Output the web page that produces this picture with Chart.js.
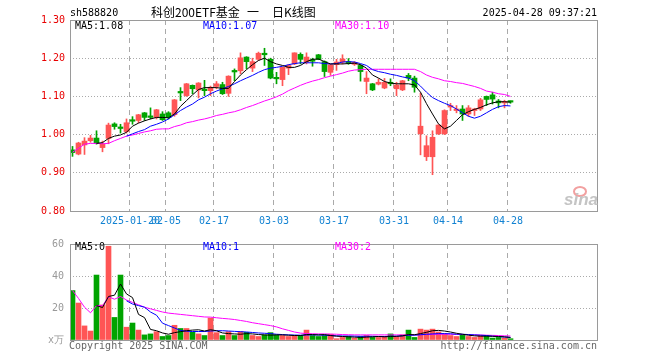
<!DOCTYPE html>
<html><head><meta charset="utf-8">
<script src="https://cdn.jsdelivr.net/npm/chart.js@4.4.1/dist/chart.umd.min.js"></script>
<style>
html,body{margin:0;padding:0;background:#fff;}
#wrap{position:relative;width:660px;height:360px;overflow:hidden;background:#fff;}
canvas{position:absolute;left:0;}
.t{position:absolute;font-family:"DejaVu Sans Mono",monospace;font-size:10px;white-space:pre;line-height:12px;color:#000;}
.ti{position:absolute;font-family:'Noto Sans CJK SC';font-size:12px;line-height:14px;top:5px;white-space:pre;color:#000;}
</style></head><body>
<div id="wrap">
<canvas id="main" width="660" height="232" style="top:0"></canvas>
<canvas id="vol" width="660" height="128" style="top:232px"></canvas>
<div class="t" style="left:70px;top:7px">sh588820</div>
<div class="ti" style="left:151px">科创200ETF基金</div>
<div class="ti" style="left:247px">一</div>
<div class="ti" style="left:272px">日K线图</div>
<div class="t" style="right:63px;top:7px">2025-04-28 09:37:21</div>
<div class="t" style="left:75px;top:20px">MA5:1.08</div>
<div class="t" style="left:203px;top:20px;color:#0000ff">MA10:1.07</div>
<div class="t" style="left:335px;top:20px;color:#ff00ff">MA30:1.10</div>
<div class="t" style="left:75px;top:241px">MA5:0</div>
<div class="t" style="left:203px;top:241px;color:#0000ff">MA10:1</div>
<div class="t" style="left:335px;top:241px;color:#ff00ff">MA30:2</div>
<div class="t" style="left:69px;top:340px;color:#666">Copyright 2025 SINA.COM</div>
<div class="t" style="right:63px;top:340px;color:#666">http://finance.sina.com.cn</div>
<div style="position:absolute;left:573px;top:186px;width:10px;height:7px;border:2px solid #f2a0a0;border-radius:50%"></div>
<div class="t" style="left:564px;top:191px;font-family:'Liberation Sans';font-size:17px;font-weight:bold;font-style:italic;line-height:18px;color:#c4c4c4">sina</div>
</div>
<script>
// trading days (categories)
const dates = ['2025-01-06','2025-01-07','2025-01-08','2025-01-09','2025-01-10','2025-01-13','2025-01-14','2025-01-15','2025-01-16','2025-01-17',
'2025-01-20','2025-01-21','2025-01-22','2025-01-23','2025-01-24','2025-01-27','2025-02-05','2025-02-06','2025-02-07','2025-02-10',
'2025-02-11','2025-02-12','2025-02-13','2025-02-14','2025-02-17','2025-02-18','2025-02-19','2025-02-20','2025-02-21','2025-02-24',
'2025-02-25','2025-02-26','2025-02-27','2025-02-28','2025-03-03','2025-03-04','2025-03-05','2025-03-06','2025-03-07','2025-03-10',
'2025-03-11','2025-03-12','2025-03-13','2025-03-14','2025-03-17','2025-03-18','2025-03-19','2025-03-20','2025-03-21','2025-03-24',
'2025-03-25','2025-03-26','2025-03-27','2025-03-28','2025-03-31','2025-04-01','2025-04-02','2025-04-03','2025-04-07','2025-04-08',
'2025-04-09','2025-04-10','2025-04-11','2025-04-14','2025-04-15','2025-04-16','2025-04-17','2025-04-18','2025-04-21','2025-04-22',
'2025-04-23','2025-04-24','2025-04-25','2025-04-28'];
const tickIdx = [10,16,24,34,44,54,63,73];
const tickLabels = ['2025-01-20','02-05','02-17','03-03','03-17','03-31','04-14','04-28'];
const priceTicks = [0.8,0.9,1.0,1.1,1.2,1.3];
const volTicks = [0,20,40,60];

const open = [0.960,0.949,0.973,0.984,0.991,0.966,0.990,1.028,1.020,1.008,
1.038,1.037,1.057,1.049,1.045,1.054,1.057,1.052,1.113,1.102,
1.129,1.117,1.119,1.115,1.126,1.131,1.108,1.168,1.167,1.203,
1.174,1.197,1.213,1.197,1.150,1.144,1.174,1.185,1.210,1.190,
1.196,1.209,1.191,1.163,1.183,1.190,1.190,1.184,1.181,1.139,
1.133,1.132,1.122,1.137,1.120,1.117,1.155,1.148,1.002,0.942,
0.942,1.002,1.002,1.072,1.063,1.067,1.054,1.063,1.067,1.100,
1.104,1.088,1.083,1.086];
const high = [0.969,0.980,0.992,0.998,1.010,0.983,1.030,1.031,1.027,1.041,
1.047,1.053,1.058,1.070,1.066,1.060,1.060,1.092,1.123,1.134,
1.130,1.136,1.142,1.127,1.139,1.137,1.154,1.172,1.214,1.204,
1.200,1.216,1.226,1.200,1.163,1.177,1.183,1.214,1.214,1.214,
1.200,1.210,1.193,1.184,1.197,1.209,1.199,1.191,1.183,1.165,
1.134,1.146,1.147,1.146,1.137,1.142,1.160,1.153,1.109,0.997,
1.010,1.026,1.065,1.082,1.076,1.076,1.076,1.069,1.095,1.101,
1.111,1.092,1.090,1.088];
const low = [0.943,0.947,0.948,0.980,0.975,0.955,0.976,1.014,1.004,1.004,
1.027,1.031,1.037,1.041,1.041,1.037,1.041,1.048,1.089,1.100,
1.107,1.096,1.102,1.102,1.120,1.105,1.100,1.141,1.159,1.172,
1.165,1.194,1.181,1.146,1.133,1.128,1.157,1.183,1.185,1.185,
1.179,1.196,1.152,1.155,1.168,1.185,1.184,1.181,1.140,1.107,
1.115,1.130,1.120,1.128,1.102,1.115,1.141,1.111,0.947,0.932,
0.895,1.000,1.000,1.063,1.057,1.037,1.048,1.050,1.063,1.076,
1.080,1.070,1.070,1.082];
const close = [0.953,0.978,0.983,0.991,0.977,0.975,1.025,1.021,1.016,1.031,
1.035,1.052,1.045,1.045,1.065,1.039,1.045,1.091,1.109,1.133,
1.120,1.135,1.115,1.124,1.133,1.107,1.153,1.164,1.201,1.191,
1.191,1.213,1.209,1.148,1.146,1.176,1.181,1.214,1.197,1.203,
1.192,1.197,1.165,1.183,1.190,1.198,1.187,1.189,1.165,1.148,
1.117,1.137,1.137,1.133,1.130,1.141,1.148,1.124,1.022,0.971,
0.993,1.025,1.063,1.076,1.067,1.054,1.070,1.067,1.091,1.092,
1.093,1.083,1.086,1.085];
const ma5 = [null,null,null,null,0.977,0.979,0.990,0.996,0.999,1.006,
1.022,1.030,1.036,1.041,1.045,1.045,1.044,1.054,1.074,1.089,
1.104,1.118,1.123,1.123,1.123,1.121,1.121,1.139,1.156,1.170,
1.183,1.194,1.200,1.191,1.185,1.181,1.176,1.176,1.181,1.191,
1.197,1.198,1.191,1.185,1.185,1.185,1.186,1.187,1.183,1.174,
1.156,1.148,1.139,1.135,1.133,1.133,1.133,1.130,1.111,1.081,
1.054,1.028,1.015,1.022,1.037,1.052,1.060,1.066,1.071,1.078,
1.083,1.086,1.086,1.085];
const ma10 = [null,null,null,null,null,null,null,null,null,0.996,
1.002,1.008,1.013,1.022,1.027,1.033,1.041,1.052,1.063,1.072,
1.080,1.091,1.098,1.107,1.114,1.120,1.126,1.133,1.141,1.148,
1.155,1.163,1.170,1.174,1.176,1.179,1.183,1.186,1.188,1.188,
1.188,1.188,1.186,1.185,1.186,1.190,1.191,1.190,1.186,1.181,
1.170,1.165,1.162,1.158,1.155,1.151,1.148,1.141,1.127,1.111,
1.097,1.089,1.082,1.076,1.067,1.057,1.048,1.043,1.048,1.057,
1.066,1.073,1.076,1.075];
const ma30 = [0.954,0.964,0.975,0.977,0.977,0.976,0.977,0.984,0.990,0.996,
0.999,1.003,1.007,1.010,1.014,1.015,1.015,1.021,1.025,1.031,
1.034,1.038,1.041,1.045,1.050,1.053,1.057,1.060,1.065,1.071,
1.076,1.082,1.088,1.093,1.099,1.106,1.115,1.122,1.129,1.135,
1.140,1.144,1.149,1.153,1.157,1.161,1.166,1.169,1.170,1.171,
1.171,1.171,1.171,1.171,1.171,1.171,1.171,1.171,1.165,1.156,
1.150,1.146,1.141,1.139,1.136,1.134,1.130,1.126,1.121,1.114,
1.111,1.107,1.105,1.100];
const volume = [30.9,23.1,8.8,5.6,40.6,21.9,58.6,14.1,40.6,8.0,
10.6,6.2,3.2,3.8,5.2,2.2,2.8,9.2,7.2,7.2,
4.8,3.8,2.8,13.7,4.6,2.8,5.2,2.8,5.2,4.8,
2.8,2.2,3.2,4.6,3.2,2.8,2.2,2.8,2.8,6.2,
2.8,2.2,2.8,3.6,0.8,1.6,2.2,1.2,2.2,2.8,
1.6,1.6,2.2,3.8,2.2,3.2,6.2,1.6,6.8,6.2,
6.8,5.0,4.0,2.8,2.2,3.2,2.2,1.6,2.8,2.8,
1.2,1.6,1.2,0.8];
const vma5 = [null,null,null,null,21.5,20.3,27.2,28.0,35.0,28.8,
26.5,16.0,14.0,6.6,5.8,4.4,3.6,4.6,5.2,5.8,
6.2,6.4,5.6,6.4,5.8,4.4,4.0,3.8,3.6,4.0,
3.8,3.4,3.2,3.0,3.2,3.2,3.0,2.8,2.8,3.4,
3.4,3.2,3.4,2.8,2.4,2.2,2.0,1.8,1.6,1.8,
2.0,2.2,2.0,2.2,2.3,2.6,3.4,3.3,4.0,4.8,
5.8,6.0,5.6,5.0,4.2,3.6,3.0,2.6,2.4,2.4,
2.3,2.2,2.0,1.6];
const vma10 = [null,null,null,null,null,null,null,null,null,24.5,
22.5,21.5,20.5,17.5,15.5,10.5,9.0,7.5,6.0,5.5,
5.3,5.3,5.3,5.6,5.8,5.8,5.6,5.4,5.2,5.0,
4.7,4.4,4.2,4.0,3.6,3.4,3.2,3.1,3.0,3.1,
3.2,3.1,3.0,2.8,2.6,2.5,2.5,2.4,2.3,2.3,
2.3,2.2,2.2,2.3,2.4,2.6,3.0,3.0,3.3,3.6,
3.8,4.0,4.0,3.9,3.6,3.6,3.4,3.2,3.0,2.8,
2.4,2.1,1.8,1.6];
const vma30 = [30.9,26.0,20.5,17.0,21.5,21.5,27.0,25.5,27.2,25.0,
23.5,22.0,20.5,19.5,18.5,17.5,16.8,16.4,16.0,15.6,
15.2,14.8,14.4,14.3,13.9,13.5,13.2,12.8,12.2,11.6,
10.8,10.2,9.6,9.0,8.2,7.0,6.0,5.0,4.3,4.0,
3.9,3.8,3.8,3.7,3.6,3.4,3.3,3.2,3.2,3.2,
3.2,3.2,3.2,3.2,3.2,3.2,3.2,3.2,3.3,3.4,
3.5,3.6,3.6,3.6,3.5,3.4,3.3,3.2,3.1,3.0,
2.9,2.8,2.6,2.5];

const RED = '#ff5555', GREEN = '#00a400';
const candleColor = open.map((o, i) => close[i] >= o ? RED : GREEN);
const pts = arr => arr.map((v, i) => ({x: i, y: v}));

Chart.defaults.font.family = "'DejaVu Sans Mono', monospace";
Chart.defaults.font.size = 10;

const XMIN = -0.4167, XMAX = 87.4167;
const frame = {id: 'frame', afterDraw(c) {
  const a = c.chartArea, ctx = c.ctx;
  ctx.save(); ctx.setLineDash([]); ctx.strokeStyle = '#9a9a9a'; ctx.lineWidth = 1;
  ctx.strokeRect(a.left + 0.5, a.top + 0.5, a.right - a.left, a.bottom - a.top);
  ctx.restore();
}};

function xScale(showLabels) {
  return {
    type: 'linear', min: XMIN, max: XMAX, offset: false,
    afterBuildTicks: s => { s.ticks = tickIdx.map(v => ({value: v - 0.42})); },
    afterFit: s => { s.height = showLabels ? 21 : 20; },
    ticks: {display: showLabels, autoSkip: false, maxRotation: 0, minRotation: 0, padding: 4,
      color: '#1282d2', callback: (v, i) => tickLabels[i]},
    grid: {color: '#aaaaaa', drawTicks: false, offset: false, lineWidth: 1},
    border: {display: false, dash: [5, 4]}
  };
}
const lineDs = (arr, color) => ({type: 'line', data: pts(arr), borderColor: color, borderWidth: 1,
  pointRadius: 0, tension: 0, spanGaps: false, order: 0});

new Chart(document.getElementById('main'), {
  type: 'bar',
  data: {datasets: [
    lineDs(ma5, '#000000'), lineDs(ma10, '#0000ff'), lineDs(ma30, '#ff00ff'),
    {type: 'bar', data: open.map((o, i) => ({x: i, y: [low[i], high[i]]})), backgroundColor: candleColor,
      barThickness: 1, grouped: false, order: 2, borderWidth: 0},
    {type: 'bar', data: open.map((o, i) => ({x: i, y: [Math.min(o, close[i]), Math.max(o, close[i])]})),
      backgroundColor: candleColor, barThickness: 5, grouped: false, minBarLength: 1.5, order: 1, borderWidth: 0}
  ]},
  options: {
    responsive: false, animation: false, devicePixelRatio: 1, events: [],
    layout: {padding: {left: 0, right: 63, top: 20, bottom: 0}},
    plugins: {legend: {display: false}, tooltip: {enabled: false}},
    scales: {
      x: xScale(true),
      y: {type: 'linear', min: 0.8, max: 1.3, beginAtZero: false,
        afterBuildTicks: s => { s.ticks = priceTicks.map(v => ({value: v})); },
        afterFit: s => { s.width = 70; },
        ticks: {color: '#e80000', padding: 5, callback: v => Number(v).toFixed(2)},
        grid: {color: '#aaaaaa', drawTicks: false},
        border: {display: false, dash: [1, 2]}}
    }
  },
  plugins: [frame]
});

new Chart(document.getElementById('vol'), {
  type: 'bar',
  data: {datasets: [
    lineDs(vma5, '#000000'), lineDs(vma10, '#0000ff'), lineDs(vma30, '#ff00ff'),
    {type: 'bar', data: volume.map((v, i) => ({x: i, y: v})), backgroundColor: candleColor,
      barThickness: 5, grouped: false, order: 1, borderWidth: 0}
  ]},
  options: {
    responsive: false, animation: false, devicePixelRatio: 1, events: [],
    layout: {padding: {left: 0, right: 63, top: 9, bottom: 0}},
    plugins: {legend: {display: false}, tooltip: {enabled: false}},
    scales: {
      x: xScale(false),
      y: {type: 'linear', min: 0, max: 60, beginAtZero: true,
        afterBuildTicks: s => { s.ticks = volTicks.map(v => ({value: v})); },
        afterFit: s => { s.width = 70; },
        ticks: {color: '#999999', padding: 6, callback: v => v === 0 ? 'x万' : String(v)},
        grid: {color: '#aaaaaa', drawTicks: false},
        border: {display: false, dash: [1, 2]}}
    }
  },
  plugins: [frame]
});
</script>
</body></html>
